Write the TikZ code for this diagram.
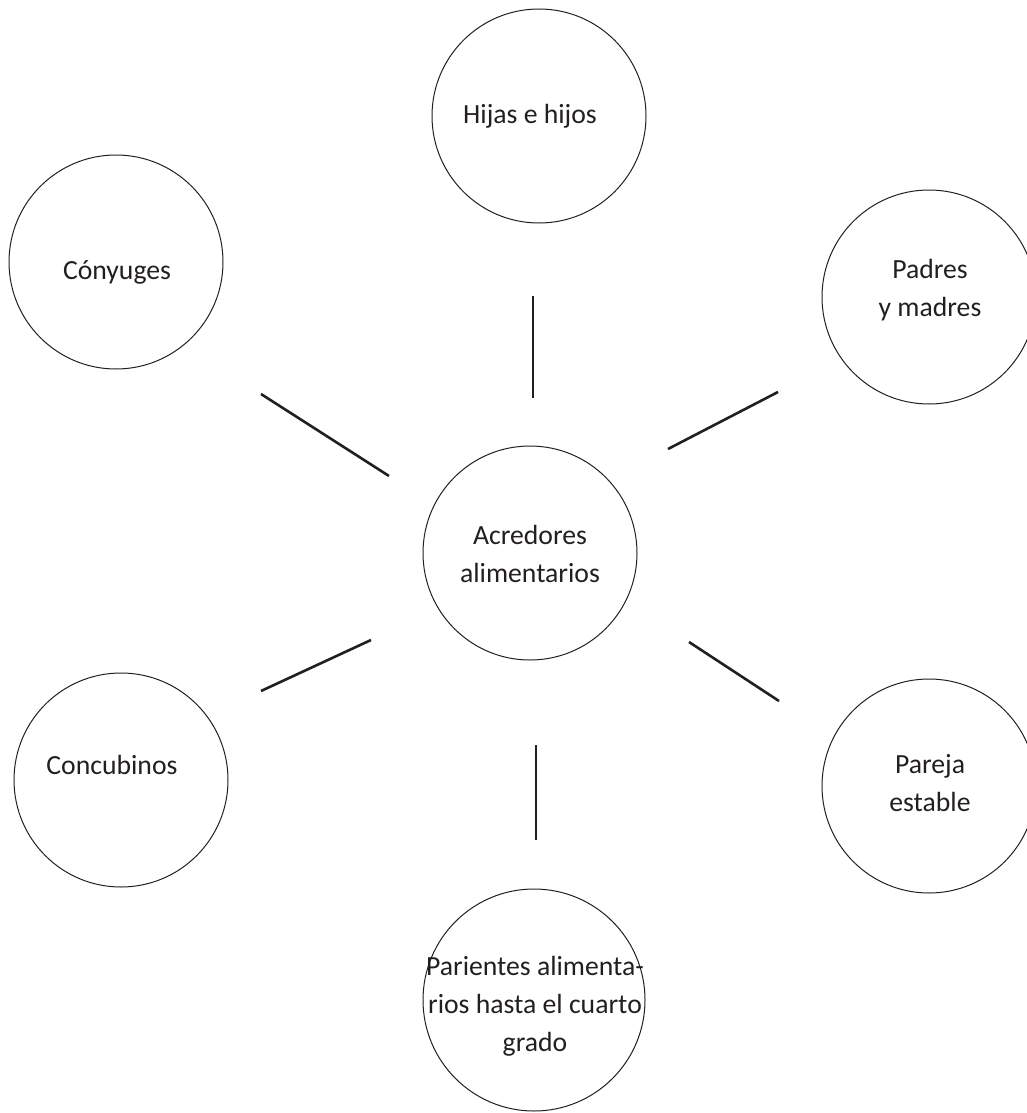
\documentclass[tikz,border=0pt]{standalone}
\usepackage{fontspec}
\setmainfont{Carlito}
\definecolor{ink}{HTML}{231F20}
\begin{document}
\begin{tikzpicture}[x=1pt,y=-1pt,
  circ/.style={draw=ink,line width=1pt,circle,minimum size=214pt,inner sep=0pt},
  lbl/.style={text=ink,font=\fontsize{27.7pt}{38pt}\selectfont,align=center,anchor=base,inner sep=0pt},
  spoke/.style={draw=ink,line width=2.6pt}]
\useasboundingbox (0,0) rectangle (1027,1113);
\clip (0,0) rectangle (1027,1113);
% circles
\node[circ] (hijas) at (539,116) {};
\node[circ] (cony) at (116,262) {};
\node[circ] (padres) at (929,297) {};
\node[circ] (acre) at (530,553) {};
\node[circ] (concu) at (121,780) {};
\node[circ] (pareja) at (929,786) {};
\node[circ,minimum size=222pt] (parien) at (534,1000) {};
% labels (anchor = baseline of last line)
\node[lbl] (thijas) at (530,124) {Hijas e hijos};
\node[lbl] (tcony) at (117,279) {Cónyuges};
\node[lbl] (tpadres) at (930,316) {Padres\\y madres};
\node[lbl] (tacre) at (530,582) {Acredores\\alimentarios};
\node[lbl] (tconcu) at (112,774) {Concubinos};
\node[lbl] (tpareja) at (930,811) {Pareja\\estable};
\node[lbl] (tparien) at (535,1051) {Parientes alimenta-\\rios hasta el cuarto\\grado};
% spokes (free segments)
\coordinate (s1a) at (533,296); \coordinate (s1b) at (533,398);
\coordinate (s2a) at (261,394); \coordinate (s2b) at (389,476);
\coordinate (s3a) at (668,449); \coordinate (s3b) at (778,392);
\coordinate (s4a) at (261,691); \coordinate (s4b) at (371,640);
\coordinate (s5a) at (689,642); \coordinate (s5b) at (779,701);
\coordinate (s6a) at (536,745); \coordinate (s6b) at (536,840);
\draw[spoke] (s1a) -- (s1b);
\draw[spoke] (s2a) -- (s2b);
\draw[spoke] (s3a) -- (s3b);
\draw[spoke] (s4a) -- (s4b);
\draw[spoke] (s5a) -- (s5b);
\draw[spoke] (s6a) -- (s6b);
\end{tikzpicture}
\end{document}
